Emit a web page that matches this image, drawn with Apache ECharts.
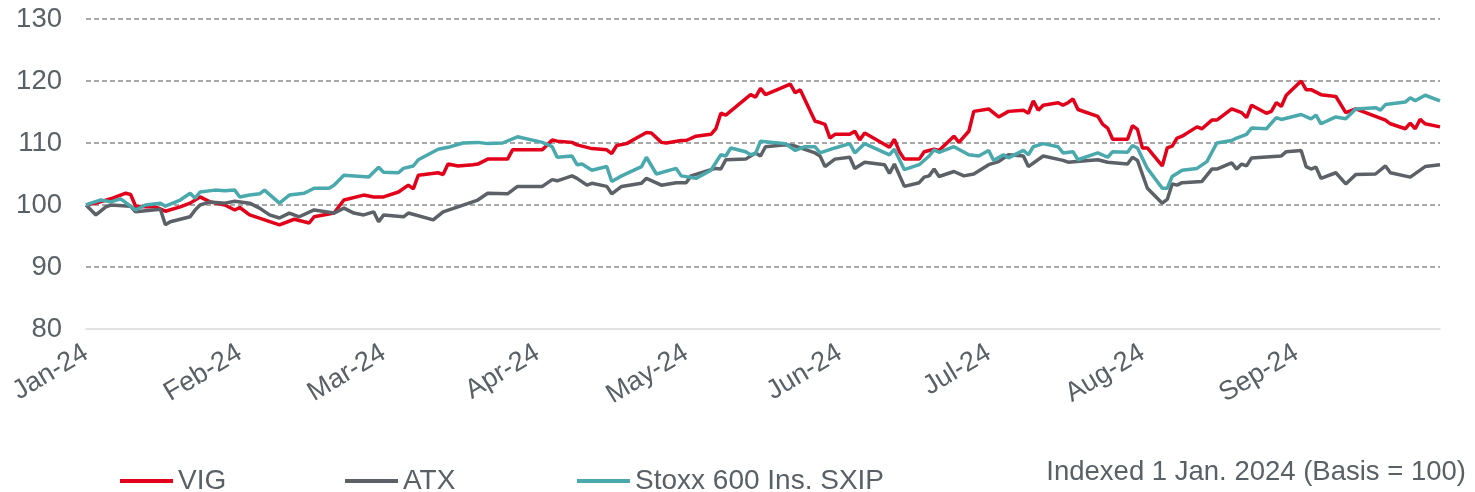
<!DOCTYPE html>
<html>
<head>
<meta charset="utf-8">
<title>VIG vs ATX vs Stoxx 600 Insurance</title>
<script src="https://cdn.jsdelivr.net/npm/echarts@6/dist/echarts.min.js"></script>
<style>
    html, body { margin: 0; padding: 0; background: #fff; }
    #chart { width: 1475px; height: 492px; }
</style>
</head>
<body>
<div id="chart"></div>
<script>
/* ── Data (indexed, 1 Jan 2024 = 100) ─────────────────────────────── */
const monthStarts = ['2024-01-01', '2024-02-01', '2024-03-01', '2024-04-01', '2024-05-01',
    '2024-06-01', '2024-07-01', '2024-08-01', '2024-09-01'];
const monthLabels = ['Jan-24', 'Feb-24', 'Mar-24', 'Apr-24', 'May-24', 'Jun-24', 'Jul-24', 'Aug-24', 'Sep-24'];
const xRange = ['2024-01-01', '2024-09-30'];
const yTicks = [80, 90, 100, 110, 120, 130];

const vigData = [
    ['2024-01-01', 100], ['2024-01-03', 100.3], ['2024-01-06', 101], ['2024-01-09', 101.9], ['2024-01-10', 101.7],
    ['2024-01-11', 99.8], ['2024-01-13', 99.7], ['2024-01-15', 99.7], ['2024-01-17', 99], ['2024-01-20', 99.7],
    ['2024-01-22', 100.3], ['2024-01-24', 101.3], ['2024-01-26', 100.5], ['2024-01-29', 100], ['2024-01-31', 99.2],
    ['2024-02-01', 99.6], ['2024-02-03', 98.4], ['2024-02-06', 97.6], ['2024-02-09', 96.8], ['2024-02-12', 97.7],
    ['2024-02-15', 97.1], ['2024-02-16', 98.1], ['2024-02-20', 98.7], ['2024-02-22', 100.8], ['2024-02-26', 101.6],
    ['2024-02-28', 101.3], ['2024-03-01', 101.3], ['2024-03-04', 102.1], ['2024-03-06', 103.2], ['2024-03-07', 102.6],
    ['2024-03-08', 104.8], ['2024-03-12', 105.2], ['2024-03-13', 104.9], ['2024-03-14', 106.6], ['2024-03-16', 106.3],
    ['2024-03-19', 106.5], ['2024-03-20', 106.6], ['2024-03-22', 107.4], ['2024-03-26', 107.4], ['2024-03-27', 108.9],
    ['2024-04-02', 108.9], ['2024-04-04', 110.5], ['2024-04-05', 110.3], ['2024-04-08', 110.1], ['2024-04-09', 109.7],
    ['2024-04-12', 109.1], ['2024-04-15', 108.9], ['2024-04-16', 108.3], ['2024-04-17', 109.6], ['2024-04-19', 109.9],
    ['2024-04-21', 110.8], ['2024-04-23', 111.7], ['2024-04-24', 111.6], ['2024-04-26', 110.1], ['2024-04-27', 110],
    ['2024-04-30', 110.4], ['2024-05-01', 110.4], ['2024-05-03', 111.1], ['2024-05-06', 111.4], ['2024-05-07', 112.3],
    ['2024-05-08', 114.8], ['2024-05-09', 114.5], ['2024-05-14', 117.8], ['2024-05-15', 117.4], ['2024-05-16', 118.8],
    ['2024-05-17', 117.8], ['2024-05-20', 118.8], ['2024-05-22', 119.5], ['2024-05-23', 118.1], ['2024-05-24', 118.6],
    ['2024-05-27', 113.5], ['2024-05-28', 113.3], ['2024-05-29', 113], ['2024-05-30', 110.8], ['2024-05-31', 111.4],
    ['2024-06-03', 111.4], ['2024-06-04', 111.9], ['2024-06-05', 110.5], ['2024-06-06', 111.6], ['2024-06-11', 109.3],
    ['2024-06-12', 110.6], ['2024-06-13', 108.6], ['2024-06-14', 107.4], ['2024-06-17', 107.4], ['2024-06-18', 108.6],
    ['2024-06-20', 109], ['2024-06-21', 108.8], ['2024-06-24', 111.1], ['2024-06-25', 110.1], ['2024-06-27', 111.9],
    ['2024-06-28', 115.1], ['2024-07-01', 115.5], ['2024-07-03', 114.2], ['2024-07-05', 115.1], ['2024-07-08', 115.3],
    ['2024-07-09', 114.8], ['2024-07-10', 116.8], ['2024-07-11', 115.3], ['2024-07-12', 116.1], ['2024-07-15', 116.5],
    ['2024-07-16', 116.1], ['2024-07-17', 116.5], ['2024-07-18', 117.1], ['2024-07-19', 115.4], ['2024-07-23', 114.3],
    ['2024-07-24', 113], ['2024-07-25', 112.4], ['2024-07-26', 110.6], ['2024-07-29', 110.6], ['2024-07-30', 112.8],
    ['2024-07-31', 112.2], ['2024-08-01', 109.2], ['2024-08-02', 109.2], ['2024-08-05', 106.3], ['2024-08-06', 109.2],
    ['2024-08-07', 109.5], ['2024-08-08', 110.8], ['2024-08-09', 111.1], ['2024-08-12', 112.6], ['2024-08-13', 112.3],
    ['2024-08-15', 113.7], ['2024-08-16', 113.7], ['2024-08-19', 115.5], ['2024-08-21', 114.9], ['2024-08-22', 114.1],
    ['2024-08-23', 116.1], ['2024-08-26', 114.8], ['2024-08-27', 115.1], ['2024-08-28', 116.5], ['2024-08-29', 115.9],
    ['2024-08-30', 117.7], ['2024-09-02', 120], ['2024-09-03', 118.6], ['2024-09-04', 118.6], ['2024-09-06', 117.8],
    ['2024-09-09', 117.5], ['2024-09-11', 114.9], ['2024-09-13', 115.5], ['2024-09-19', 113.7], ['2024-09-20', 113.1],
    ['2024-09-23', 112.3], ['2024-09-24', 113.2], ['2024-09-25', 112.3], ['2024-09-26', 113.8], ['2024-09-27', 113.1],
    ['2024-09-30', 112.6]
];

const atxData = [
    ['2024-01-01', 100], ['2024-01-03', 98.4], ['2024-01-05', 99.7], ['2024-01-06', 100], ['2024-01-10', 99.8],
    ['2024-01-11', 98.9], ['2024-01-16', 99.3], ['2024-01-17', 96.8], ['2024-01-18', 97.3], ['2024-01-22', 98.1],
    ['2024-01-23', 99.2], ['2024-01-24', 100], ['2024-01-26', 100.5], ['2024-01-29', 100.3], ['2024-01-31', 100.6],
    ['2024-02-03', 100.3], ['2024-02-05', 99.5], ['2024-02-07', 98.4], ['2024-02-09', 97.9], ['2024-02-11', 98.7],
    ['2024-02-13', 98.1], ['2024-02-16', 99.2], ['2024-02-20', 98.7], ['2024-02-22', 99.5], ['2024-02-24', 98.7],
    ['2024-02-26', 98.4], ['2024-02-28', 98.9], ['2024-02-29', 97.3], ['2024-03-01', 98.4], ['2024-03-05', 98.1],
    ['2024-03-06', 98.7], ['2024-03-11', 97.6], ['2024-03-13', 98.9], ['2024-03-16', 99.7], ['2024-03-20', 100.8],
    ['2024-03-22', 101.9], ['2024-03-26', 101.8], ['2024-03-28', 103], ['2024-04-02', 103], ['2024-04-04', 104.1],
    ['2024-04-05', 103.9], ['2024-04-08', 104.7], ['2024-04-09', 104.3], ['2024-04-11', 103.2], ['2024-04-12', 103.5],
    ['2024-04-15', 103], ['2024-04-16', 101.8], ['2024-04-18', 103], ['2024-04-22', 103.5], ['2024-04-23', 104.3],
    ['2024-04-26', 103.2], ['2024-04-29', 103.6], ['2024-05-01', 103.6], ['2024-05-02', 104.7], ['2024-05-06', 105.7],
    ['2024-05-07', 105.9], ['2024-05-08', 105.8], ['2024-05-09', 107.3], ['2024-05-13', 107.4], ['2024-05-15', 108.4],
    ['2024-05-16', 107.9], ['2024-05-17', 109.4], ['2024-05-21', 109.7], ['2024-05-23', 109.5], ['2024-05-27', 108.4],
    ['2024-05-28', 107.9], ['2024-05-29', 106.2], ['2024-05-31', 107.4], ['2024-06-03', 107.7], ['2024-06-04', 105.9],
    ['2024-06-06', 106.9], ['2024-06-10', 106.5], ['2024-06-11', 105.1], ['2024-06-12', 106.6], ['2024-06-14', 103],
    ['2024-06-17', 103.6], ['2024-06-18', 104.5], ['2024-06-19', 104.7], ['2024-06-20', 105.8], ['2024-06-21', 104.6],
    ['2024-06-24', 105.4], ['2024-06-26', 104.7], ['2024-06-28', 105], ['2024-07-01', 106.5], ['2024-07-03', 107],
    ['2024-07-05', 108.1], ['2024-07-08', 107.9], ['2024-07-09', 106.2], ['2024-07-12', 107.9], ['2024-07-16', 107.2],
    ['2024-07-17', 106.9], ['2024-07-23', 107.3], ['2024-07-25', 106.9], ['2024-07-29', 106.6], ['2024-07-30', 107.7],
    ['2024-07-31', 107.2], ['2024-08-02', 102.7], ['2024-08-05', 100.3], ['2024-08-06', 100.9], ['2024-08-07', 103.4],
    ['2024-08-08', 103.2], ['2024-08-09', 103.6], ['2024-08-13', 103.8], ['2024-08-15', 105.8], ['2024-08-16', 105.8],
    ['2024-08-19', 106.8], ['2024-08-20', 105.8], ['2024-08-21', 106.6], ['2024-08-22', 106.3], ['2024-08-23', 107.6],
    ['2024-08-29', 107.9], ['2024-08-30', 108.6], ['2024-09-02', 108.8], ['2024-09-03', 106.2], ['2024-09-04', 105.8],
    ['2024-09-05', 106.1], ['2024-09-06', 104.3], ['2024-09-09', 105.2], ['2024-09-11', 103.4], ['2024-09-13', 104.9],
    ['2024-09-17', 105], ['2024-09-19', 106.3], ['2024-09-20', 105.2], ['2024-09-24', 104.5], ['2024-09-27', 106.2],
    ['2024-09-30', 106.5]
];

const sxipData = [
    ['2024-01-01', 100], ['2024-01-02', 100.3], ['2024-01-04', 100.8], ['2024-01-06', 100.5], ['2024-01-08', 101],
    ['2024-01-11', 99.2], ['2024-01-13', 100], ['2024-01-16', 100.3], ['2024-01-17', 99.8], ['2024-01-20', 100.8],
    ['2024-01-22', 101.9], ['2024-01-23', 101.1], ['2024-01-24', 102.1], ['2024-01-27', 102.4], ['2024-01-29', 102.3],
    ['2024-01-31', 102.4], ['2024-02-01', 101.3], ['2024-02-03', 101.6], ['2024-02-05', 101.8], ['2024-02-06', 102.4],
    ['2024-02-09', 100.3], ['2024-02-11', 101.6], ['2024-02-14', 101.9], ['2024-02-16', 102.7], ['2024-02-19', 102.7],
    ['2024-02-20', 103.2], ['2024-02-22', 104.8], ['2024-02-27', 104.5], ['2024-02-29', 106.1], ['2024-03-01', 105.3],
    ['2024-03-04', 105.2], ['2024-03-05', 105.9], ['2024-03-07', 106.3], ['2024-03-08', 107.3], ['2024-03-12', 109],
    ['2024-03-14', 109.3], ['2024-03-17', 110], ['2024-03-20', 110.1], ['2024-03-22', 109.9], ['2024-03-25', 110],
    ['2024-03-28', 111], ['2024-04-02', 110.1], ['2024-04-04', 109.4], ['2024-04-05', 107.7], ['2024-04-08', 107.9],
    ['2024-04-09', 106.5], ['2024-04-10', 106.6], ['2024-04-12', 105.6], ['2024-04-15', 106.2], ['2024-04-16', 103.8],
    ['2024-04-18', 104.7], ['2024-04-22', 106.2], ['2024-04-23', 107.7], ['2024-04-25', 105], ['2024-04-29', 105.9],
    ['2024-04-30', 104.7], ['2024-05-03', 104.3], ['2024-05-06', 105.6], ['2024-05-08', 108.1], ['2024-05-09', 107.9],
    ['2024-05-10', 109.2], ['2024-05-13', 108.6], ['2024-05-14', 108.1], ['2024-05-15', 108.3], ['2024-05-16', 110.3],
    ['2024-05-21', 109.9], ['2024-05-23', 108.8], ['2024-05-25', 109.4], ['2024-05-27', 109.4], ['2024-05-28', 108.4],
    ['2024-05-31', 109.2], ['2024-06-03', 109.9], ['2024-06-04', 108.4], ['2024-06-06', 109.9], ['2024-06-11', 108.1],
    ['2024-06-12', 109], ['2024-06-14', 105.7], ['2024-06-17', 106.5], ['2024-06-19', 107.9], ['2024-06-20', 108.9],
    ['2024-06-21', 108.5], ['2024-06-24', 109.4], ['2024-06-27', 108.1], ['2024-06-29', 107.9], ['2024-07-01', 108.8],
    ['2024-07-02', 107.2], ['2024-07-04', 108.1], ['2024-07-05', 107.6], ['2024-07-08', 108.8], ['2024-07-09', 108.1],
    ['2024-07-10', 109.4], ['2024-07-12', 109.9], ['2024-07-15', 109.4], ['2024-07-16', 108.4], ['2024-07-18', 108.6],
    ['2024-07-19', 107.3], ['2024-07-23', 108.4], ['2024-07-25', 107.7], ['2024-07-26', 108.6], ['2024-07-29', 108.5],
    ['2024-07-30', 109.6], ['2024-07-31', 109.2], ['2024-08-02', 105.9], ['2024-08-05', 102.7], ['2024-08-06', 102.7],
    ['2024-08-07', 104.6], ['2024-08-09', 105.6], ['2024-08-12', 105.9], ['2024-08-14', 107], ['2024-08-16', 110],
    ['2024-08-19', 110.4], ['2024-08-20', 110.8], ['2024-08-22', 111.4], ['2024-08-23', 112.4], ['2024-08-26', 112.3],
    ['2024-08-28', 114.1], ['2024-08-29', 113.8], ['2024-09-02', 114.6], ['2024-09-04', 113.9], ['2024-09-05', 114.5],
    ['2024-09-06', 113.1], ['2024-09-09', 114.2], ['2024-09-11', 113.9], ['2024-09-13', 115.5], ['2024-09-17', 115.7],
    ['2024-09-18', 115.3], ['2024-09-19', 116.2], ['2024-09-23', 116.6], ['2024-09-24', 117.3], ['2024-09-25', 116.8],
    ['2024-09-27', 117.7], ['2024-09-30', 116.8]
];

/* ── Helpers ──────────────────────────────────────────────────────── */
const TEXT = '#596066';
const FONT = '"Liberation Sans", Arial, sans-serif';
const COLORS = { vig: '#e2001a', atx: '#5b6166', sxip: '#4aa9ad' };

function toTime(d) {
    const [y, m, day] = d.split('-').map(Number);
    return Date.UTC(y, m - 1, day);
}

const monthTimes = monthStarts.map(toTime);

function monthLabel(value) {
    const i = monthTimes.indexOf(value);
    return i >= 0 ? monthLabels[i] : '';
}

function lineSeries(name, data, color) {
    return {
        name, type: 'line',
        data: data.map(([d, v]) => [toTime(d), v]),
        symbol: 'none',
        lineStyle: { width: 3.5, color },
        itemStyle: { color },
        emphasis: { disabled: true }
    };
}

function legendFor(name, left) {
    return {
        data: [name], left, top: 462,
        icon: 'rect', itemWidth: 53, itemHeight: 4, itemGap: 0,
        textStyle: { color: TEXT, fontSize: 28, fontFamily: FONT },
        selectedMode: false
    };
}

/* ── Chart ────────────────────────────────────────────────────────── */
const chart = echarts.init(document.getElementById('chart'));

chart.setOption({
    animation: false,
    textStyle: { fontFamily: FONT },
    grid: { left: 86, right: 35, top: 19, bottom: 163, containLabel: false },
    legend: [
        legendFor('VIG', 115),
        legendFor('ATX', 340),
        legendFor('Stoxx 600 Ins. SXIP', 572)
    ],
    title: {
        text: 'Indexed 1 Jan. 2024 (Basis = 100)',
        right: 4, top: 453,
        textStyle: { color: TEXT, fontSize: 27.5, fontWeight: 'normal', fontFamily: FONT }
    },
    xAxis: {
        type: 'value',
        min: toTime(xRange[0]),
        max: toTime(xRange[1]),
        axisLine: { show: true, lineStyle: { color: '#d9d9d9', width: 1.5 } },
        axisTick: { show: false },
        splitLine: { show: false },
        axisLabel: {
            customValues: monthTimes,
            formatter: monthLabel,
            rotate: 31,
            margin: 22,
            color: TEXT,
            fontSize: 27,
            fontFamily: FONT,
            hideOverlap: false
        }
    },
    yAxis: {
        type: 'value',
        min: yTicks[0],
        max: yTicks[yTicks.length - 1],
        interval: 10,
        axisLine: { show: false },
        axisTick: { show: false },
        axisLabel: { color: TEXT, fontSize: 27.5, fontFamily: FONT, margin: 24 },
        splitLine: {
            show: true,
            showMinLine: false,
            lineStyle: { color: '#8c8c8c', width: 1.5, type: [5, 3] }
        }
    },
    series: [
        lineSeries('VIG', vigData, COLORS.vig),
        lineSeries('ATX', atxData, COLORS.atx),
        lineSeries('Stoxx 600 Ins. SXIP', sxipData, COLORS.sxip)
    ]
});

window.addEventListener('resize', () => chart.resize());
</script>
</body>
</html>
